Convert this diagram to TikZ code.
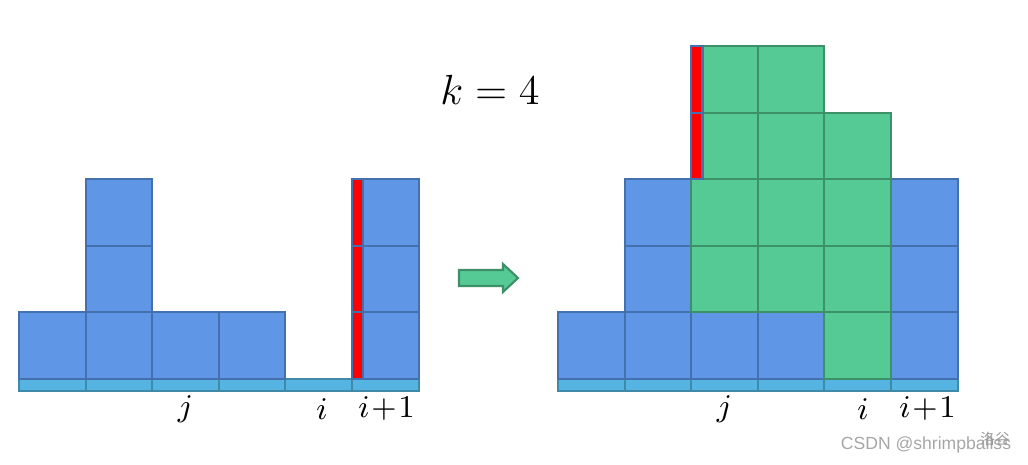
\documentclass[tikz,border=0pt]{standalone}
\usepackage{fontspec}
\newfontfamily\wmfont{Liberation Sans}
\newfontfamily\cjk{Noto Sans CJK SC}
\usetikzlibrary{shapes.arrows,positioning}
\definecolor{blkfill}{HTML}{5F96E6}
\definecolor{blkline}{HTML}{4470AE}
\definecolor{grnfill}{HTML}{55CA94}
\definecolor{grnline}{HTML}{3D9068}
\definecolor{basefill}{HTML}{56B4E3}
\definecolor{baseline}{HTML}{3E8AA8}
\tikzset{blk/.style={draw=blkline, fill=blkfill, line width=0.6pt}}
\tikzset{grn/.style={draw=grnline, fill=grnfill, line width=0.6pt}}
\tikzset{basecell/.style={draw=baseline, fill=basefill, line width=0.6pt}}
\tikzset{redbar/.style={draw=blkline, fill=red, line width=0.6pt}}
\tikzset{lbl/.style={font=\fontsize{9}{11}\selectfont, inner sep=0}}

\begin{document}
\begin{tikzpicture}[x=0.666cm,y=0.666cm]
	\useasboundingbox (0cm,0cm) rectangle (10.28cm,4.64cm);

	% before
	\begin{scope}[shift={(0.285,1.276)}]
		\foreach \c in {0,...,5}
			\draw[basecell] (\c,-0.18) rectangle (\c+1,0);
		\foreach \c/\h in {0/1,1/3,2/1,3/1,5/3}
			\foreach \r in {1,...,\h}
				\draw[blk] (\c,\r-1) rectangle (\c+1,\r);
		\foreach \r in {0,1,2}
			\draw[redbar] (5,\r) rectangle (5.17,\r+1);
		\node[lbl] (lj) at (2.5,-0.45) {$j$};
		\node[lbl] (li) at (4.55,-0.45) {$i$};
		\node[lbl] (lip) at (5.52,-0.45) {$i\!+\!1$};
	\end{scope}

	% after
	\begin{scope}[shift={(8.378,1.276)}]
		\foreach \c in {0,...,5}
			\draw[basecell] (\c,-0.18) rectangle (\c+1,0);
		\foreach \c/\h in {0/1,1/3,2/1,3/1,5/3}
			\foreach \r in {1,...,\h}
				\draw[blk] (\c,\r-1) rectangle (\c+1,\r);
		\foreach \c/\lo/\hi in {2/1/4,3/1/4,4/0/3}
			\foreach \r in {\lo,...,\hi}
				\draw[grn] (\c,\r) rectangle (\c+1,\r+1);
		\foreach \r in {3,4}
			\draw[redbar] (2,\r) rectangle (2.17,\r+1);
		\node[lbl] (rj) at (2.5,-0.45) {$j$};
		\node[lbl] (ri) at (4.58,-0.45) {$i$};
		\node[lbl] (rip) at (5.55,-0.45) {$i\!+\!1$};
	\end{scope}

	\node[font=\fontsize{11.5}{14}\selectfont] (kval) at (4.9cm,3.74cm) {$k=4$};

	% block arrow
	\draw[grn] (4.59cm,1.94cm) -- (5.03cm,1.94cm) -- (5.03cm,2.00cm) -- (5.18cm,1.86cm)
		-- (5.03cm,1.72cm) -- (5.03cm,1.78cm) -- (4.59cm,1.78cm) -- cycle;

	\node[font=\wmfont\fontsize{5}{6}\selectfont, text=gray!70, inner sep=0] (wm) at (9.26cm,0.19cm) {CSDN @shrimpballss};
	\node[font=\cjk\fontsize{4.2}{5}\selectfont, text=gray!80, inner sep=0] (wmcn) at (9.95cm,0.25cm) {洛谷};
\end{tikzpicture}
\end{document}
